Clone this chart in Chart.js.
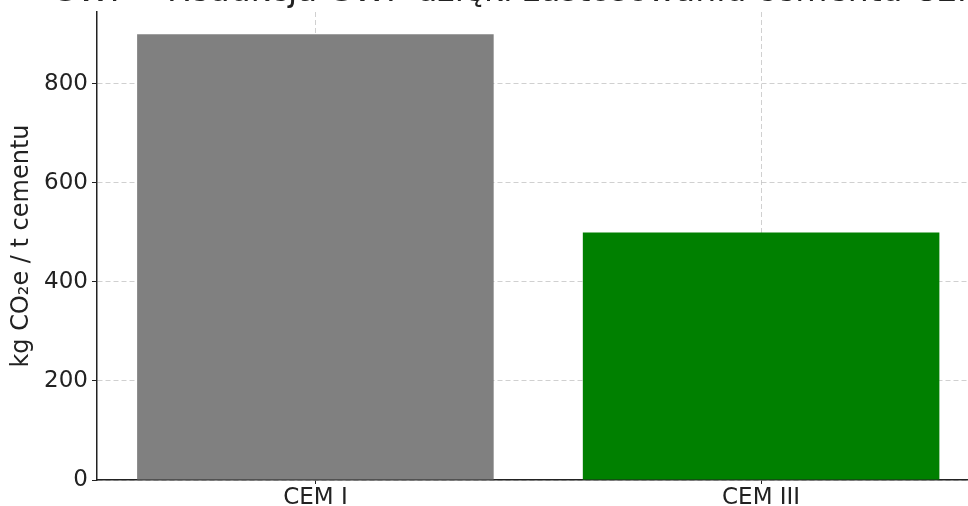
<!DOCTYPE html>
<html>
<head>
<meta charset="utf-8">
<script src="https://cdn.jsdelivr.net/npm/chart.js@4.4.1/dist/chart.umd.min.js"></script>
<style>
  html, body { margin: 0; padding: 0; overflow: hidden; background: #fff; }
  #wrap { position: absolute; left: 0; top: -30px; width: 984px; height: 536px; }
</style>
</head>
<body>
<div id="wrap"><canvas id="myChart"></canvas></div>
<script>
  const labels = ['CEM I', 'CEM III']
  const gwp = [900, 500]
  const barColors = ['#808080', '#008000']
  const yTicks = [0, 200, 400, 600, 800]
  const titleText = 'GWP – Redukcja GWP dzięki zastosowaniu cementu CEM III'

  const font = 'DejaVu Sans'
  const ink = '#222222'
  const gridColor = 'rgba(176, 176, 176, 0.6)'

  const ctx = document.getElementById('myChart')

  // bars sit at x = 0, 1 on a numeric axis so the side margins stay even
  const points = gwp.map((v, i) => ({ x: i, y: v }))

  // title centred over the plot area, allowed to run past the canvas edges
  // (the built-in title squeezes long text to fit its box)
  const wideTitle = {
    id: 'wideTitle',
    afterDraw(chart) {
      const c = chart.ctx
      const area = chart.chartArea
      c.save()
      c.font = '33px "' + font + '"'
      c.fillStyle = ink
      c.textAlign = 'center'
      c.textBaseline = 'alphabetic'
      c.fillText(titleText, (area.left + area.right) / 2, area.top - 11)
      c.restore()
    }
  }

  new Chart(ctx, {
    type: 'bar',
    data: {
      datasets: [{
        label: 'GWP',
        data: points,
        backgroundColor: barColors,
        borderWidth: 0,
        barPercentage: 0.8,
        categoryPercentage: 1
      }]
    },
    options: {
      responsive: true,
      maintainAspectRatio: false,
      animation: false,
      layout: { padding: { top: 42, right: 4.5, left: 0, bottom: 0 } },
      plugins: {
        legend: { display: false },
        tooltip: { enabled: false },
        title: { display: false }
      },
      scales: {
        x: {
          type: 'linear',
          z: 1,
          min: -0.49,
          max: 1.49,
          offset: false,
          afterFit: s => { s.height = 26 },
          afterBuildTicks: s => { s.ticks = labels.map((l, i) => ({ value: i })) },
          grid: {
            offset: false,
            color: gridColor,
            tickColor: ink,
            tickLength: 4
          },
          // in v4 border.dash is what dashes the grid lines
          border: { display: true, color: ink, width: 1.5, dash: [5, 3] },
          ticks: {
            color: ink,
            padding: 0,
            callback: v => labels[v],
            font: { family: font, size: 23 }
          }
        },
        y: {
          z: 1,
          min: 0,
          max: 945,
          afterFit: s => { s.width = 97 },
          afterBuildTicks: s => { s.ticks = yTicks.map(v => ({ value: v })) },
          grid: {
            color: gridColor,
            tickColor: ink,
            tickLength: 5
          },
          border: { display: true, color: ink, width: 1.5, dash: [5, 3] },
          ticks: {
            color: ink,
            padding: 4,
            font: { family: font, size: 23 }
          },
          title: {
            display: true,
            text: 'kg CO₂e / t cementu',
            color: ink,
            padding: { top: 7, bottom: 0 },
            font: { family: font, size: 24, lineHeight: 1.2 }
          }
        }
      }
    },
    plugins: [wideTitle]
  })
</script>
</body>
</html>
